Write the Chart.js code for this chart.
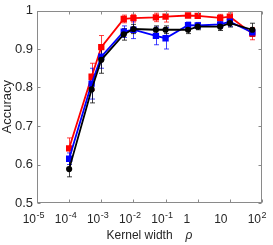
<!DOCTYPE html>
<html>
<head>
<meta charset="utf-8">
<script src="https://cdn.jsdelivr.net/npm/chart.js@4/dist/chart.umd.min.js"></script>
<style>
  body { margin: 0; background: #fff; }
  canvas { display: block; }
</style>
</head>
<body>
<canvas id="accChart" width="273" height="245"></canvas>
<script>
// ---- data ----
const kernelWidths = [1e-4, 5e-4, 1e-3, 5e-3, 1e-2, 5e-2, 0.1, 0.5, 1, 5, 10, 50];

const redAcc   = [0.642, 0.828, 0.905, 0.978, 0.980, 0.982, 0.984, 0.987, 0.986, 0.981, 0.984, 0.940];
const blueAcc  = [0.615, 0.810, 0.880, 0.945, 0.950, 0.934, 0.928, 0.962, 0.961, 0.964, 0.971, 0.943];
const blackAcc = [0.588, 0.795, 0.872, 0.938, 0.952, 0.950, 0.950, 0.950, 0.958, 0.958, 0.967, 0.950];

const redErr   = [0.027, 0.035, 0.030, 0.010, 0.010, 0.011, 0.014, 0.005, 0.006, 0.009, 0.010, 0.016];
const blueErr  = [0.015, 0.040, 0.030, 0.015, 0.023, 0.023, 0.028, 0.008, 0.008, 0.010, 0.012, 0.010];
const blackErr = [0.020, 0.035, 0.035, 0.015, 0.012, 0.010, 0.010, 0.010, 0.008, 0.010, 0.010, 0.017];

const xTickVals   = [1e-5, 1e-4, 1e-3, 1e-2, 1e-1, 1, 10, 100];
const xTickLabels = ["10^-5", "10^-4", "10^-3", "10^-2", "10^-1", "1", "10", "10^2"];
const yTickVals   = [0.5, 0.6, 0.7, 0.8, 0.9, 1];

const FONT = "'Liberation Sans', Arial, sans-serif";
const AXIS_GRAY = "#8a8a8a";
const TEXT_COLOR = "#262626";

function toPoints(ys) {
  return kernelWidths.map((x, i) => ({ x: x, y: ys[i] }));
}

// error bars, box, inward ticks, x tick labels + x title
const matlabAxes = {
  id: "matlabAxes",
  beforeDatasetsDraw(chart) {
    const ctx = chart.ctx;
    const xs = chart.scales.x, ys = chart.scales.y;
    ctx.save();
    ctx.lineWidth = 1;
    chart.data.datasets.forEach((ds) => {
      ctx.strokeStyle = ds.errColor;
      ds.data.forEach((p, i) => {
        const px = Math.round(xs.getPixelForValue(p.x)) + 0.5;
        const top = ys.getPixelForValue(p.y + ds.err[i]);
        const bot = ys.getPixelForValue(p.y - ds.err[i]);
        ctx.beginPath();
        ctx.moveTo(px, top); ctx.lineTo(px, bot);
        ctx.moveTo(px - 2.5, top); ctx.lineTo(px + 2.5, top);
        ctx.moveTo(px - 2.5, bot); ctx.lineTo(px + 2.5, bot);
        ctx.stroke();
      });
    });
    ctx.restore();
  },
  afterDraw(chart) {
    const ctx = chart.ctx;
    const a = chart.chartArea;
    const xs = chart.scales.x, ys = chart.scales.y;
    const L = Math.round(a.left) + 0.5, R = Math.round(a.right) - 0.5;
    const T = Math.round(a.top) + 0.5, B = Math.round(a.bottom) - 0.5;
    ctx.save();
    ctx.strokeStyle = AXIS_GRAY;
    ctx.lineWidth = 1;
    ctx.strokeRect(L, T, R - L, B - T);

    const tl = 3;
    ctx.beginPath();
    xTickVals.forEach((v) => {
      const px = Math.round(xs.getPixelForValue(v)) + 0.5;
      ctx.moveTo(px, B); ctx.lineTo(px, B - tl);
      ctx.moveTo(px, T); ctx.lineTo(px, T + tl);
    });
    yTickVals.forEach((v) => {
      const py = Math.round(ys.getPixelForValue(v)) + 0.5;
      ctx.moveTo(L, py); ctx.lineTo(L + tl, py);
      ctx.moveTo(R, py); ctx.lineTo(R - tl, py);
    });
    ctx.stroke();

    // x tick labels with superscript exponents
    ctx.fillStyle = TEXT_COLOR;
    ctx.textBaseline = "alphabetic";
    const baseY = B + 20;
    xTickLabels.forEach((lab, i) => {
      const px = xs.getPixelForValue(xTickVals[i]);
      const parts = lab.split("^");
      if (parts.length === 2) {
        ctx.font = "12px " + FONT;
        ctx.textAlign = "right";
        ctx.fillText(parts[0], px - 1, baseY);
        ctx.font = "9px " + FONT;
        ctx.textAlign = "left";
        ctx.fillText(parts[1], px - 0.5, baseY - 5);
      } else {
        ctx.font = "12px " + FONT;
        ctx.textAlign = "center";
        ctx.fillText(parts[0], px - (lab === "1" ? 11 : 9), baseY);
      }
    });

    // x title: "Kernel width   ρ" (rho in italics)
    const cx = (a.left + a.right) / 2;
    const ty = B + 36;
    ctx.font = "12px " + FONT;
    const w1 = ctx.measureText("Kernel width").width;
    ctx.font = "italic 12px " + FONT;
    const w2 = ctx.measureText("ρ").width;
    const gap = 13;
    const start = cx - (w1 + gap + w2) / 2;
    ctx.textAlign = "left";
    ctx.font = "12px " + FONT;
    ctx.fillText("Kernel width", start, ty);
    ctx.font = "italic 12px " + FONT;
    ctx.fillText("ρ", start + w1 + gap, ty);
    ctx.restore();
  }
};

const ctx = document.getElementById("accChart").getContext("2d");

new Chart(ctx, {
  type: "line",
  data: {
    datasets: [
      {
        label: "red",
        data: toPoints(redAcc),
        err: redErr,
        errColor: "rgba(255,0,0,0.75)",
        borderColor: "#ff0000",
        backgroundColor: "#ff0000",
        pointStyle: "rect",
        pointRadius: 3.2,
        borderWidth: 1.8,
        order: 2,
      },
      {
        label: "blue",
        data: toPoints(blueAcc),
        err: blueErr,
        errColor: "rgba(0,0,255,0.75)",
        borderColor: "#0000ff",
        backgroundColor: "#0000ff",
        pointStyle: "rect",
        pointRadius: 3.2,
        borderWidth: 1.8,
        order: 1,
      },
      {
        label: "black",
        data: toPoints(blackAcc),
        err: blackErr,
        errColor: "rgba(0,0,0,0.75)",
        borderColor: "#000000",
        backgroundColor: "#000000",
        pointStyle: "circle",
        pointRadius: 2.2,
        borderWidth: 1.8,
        order: 0,
      },
    ],
  },
  options: {
    responsive: false,
    animation: false,
    devicePixelRatio: 1,
    layout: { padding: { top: 7, right: 11, left: 0, bottom: 0 } },
    plugins: { legend: { display: false }, tooltip: { enabled: false } },
    elements: { line: { tension: 0 }, point: { borderWidth: 0 } },
    scales: {
      x: {
        type: "logarithmic",
        min: 1e-5,
        max: 100,
        grid: { display: false },
        border: { display: false },
        ticks: { display: false },
        afterFit: (scale) => { scale.height = 42; },
      },
      y: {
        min: 0.5,
        max: 1,
        afterBuildTicks: (scale) => { scale.ticks = yTickVals.map((v) => ({ value: v })); },
        grid: { display: false, drawTicks: false },
        border: { display: false },
        ticks: {
          padding: 4,
          color: TEXT_COLOR,
          font: { family: FONT, size: 13, lineHeight: 1 },
          callback: (v) => (v === 1 ? "1" : v.toFixed(1)),
        },
        title: {
          display: true,
          text: "Accuracy",
          color: TEXT_COLOR,
          padding: 0,
          font: { family: FONT, size: 13 },
        },
        afterFit: (scale) => { scale.width = 37; },
      },
    },
  },
  plugins: [matlabAxes],
});
</script>
</body>
</html>
